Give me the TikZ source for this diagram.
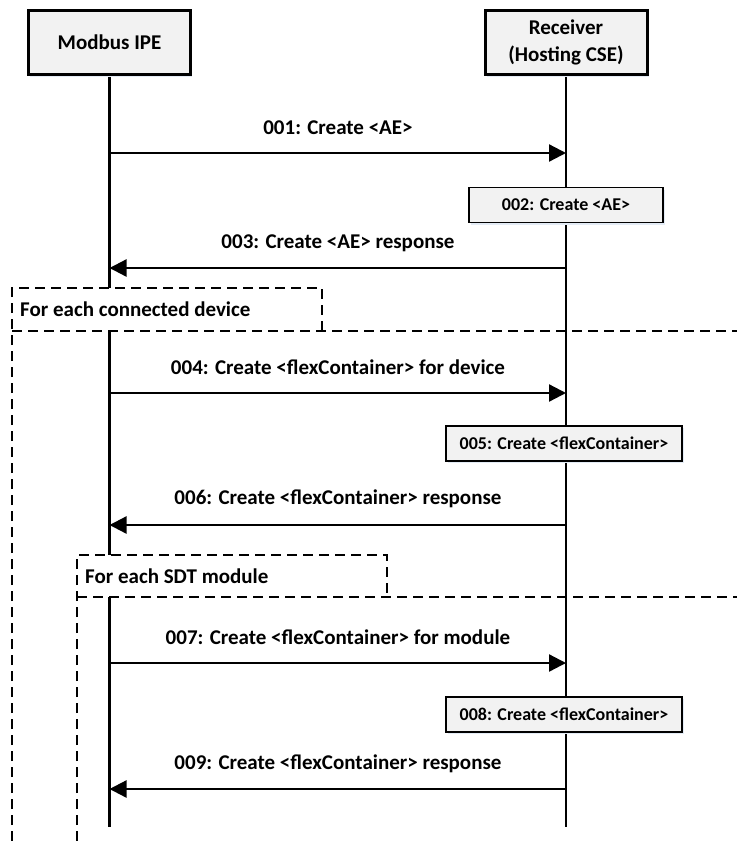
\documentclass[tikz,border=0pt]{standalone}
\usepackage{fontspec}
\setmainfont{Carlito}
\usetikzlibrary{arrows.meta,shadows}
\definecolor{boxgray}{HTML}{F2F2F2}
\definecolor{shadowblue}{HTML}{E3EBF5}
\begin{document}
\begin{tikzpicture}[x=1pt,y=-1pt,
  head/.style={draw=black, line width=3pt, fill=boxgray, minimum width=162pt, minimum height=64pt,
    inner sep=0pt, align=center, font=\fontsize{21}{27}\selectfont\bfseries,
    drop shadow={shadow xshift=1.5pt, shadow yshift=-2pt, fill=shadowblue, opacity=1}},
  life/.style={line width=2.7pt},
  msg/.style={line width=2.3pt, -{Triangle[length=17pt,width=17pt]}},
  lbl/.style={font=\fontsize{21}{25}\selectfont\bfseries, inner sep=0pt},
  act/.style={draw=black, line width=1.6pt, fill=boxgray, minimum height=35pt, inner sep=0pt,
    font=\fontsize{18}{22}\selectfont\bfseries,
    drop shadow={shadow xshift=1.5pt, shadow yshift=-2pt, fill=shadowblue, opacity=1}},
  framedash/.style={dash pattern=on 10pt off 6pt, line width=2pt},
  framelbl/.style={font=\fontsize{21}{25}\selectfont\bfseries, inner sep=0pt, anchor=west},
]
\useasboundingbox (0,0) rectangle (737,841);
\fill[white] (0,0) rectangle (737,841);

% lifelines
\coordinate (ipeEnd) at (109.5,827);
\coordinate (rcvEnd) at (566,827);
\draw[life] (109.5,76) -- (ipeEnd);
\draw[life] (566,76) -- (rcvEnd);

% heads
\node[head] (ipe) at (109.5,42.5) {Modbus IPE};
\node[head] (rcv) at (566,42.5) {Receiver\\(Hosting CSE)};

% frame 1
\fill[white] (12,288) rectangle (322,331);
\draw[framedash] (12,841) -- (12,288) -- (322,288) -- (322,331);
\draw[framedash] (12,331) -- (737,331);
\node[framelbl] (f1) at (20,309) {For each connected device};

% frame 2
\fill[white] (77,555) rectangle (387,597);
\draw[framedash] (77,841) -- (77,555) -- (387,555) -- (387,597);
\draw[framedash] (77,597) -- (737,597);
\node[framelbl] (f2) at (85,576) {For each SDT module};

% message end points
\coordinate (a1) at (109.5,153); \coordinate (b1) at (566,153);
\coordinate (a3) at (109.5,268); \coordinate (b3) at (566,268);
\coordinate (a4) at (109.5,393); \coordinate (b4) at (566,393);
\coordinate (a6) at (109.5,525); \coordinate (b6) at (566,525);
\coordinate (a7) at (109.5,663); \coordinate (b7) at (566,663);
\coordinate (a9) at (109.5,789); \coordinate (b9) at (566,789);

\draw[msg] (a1) -- (b1);
\draw[msg] (b3) -- (a3);
\draw[msg] (a4) -- (b4);
\draw[msg] (b6) -- (a6);
\draw[msg] (a7) -- (b7);
\draw[msg] (b9) -- (a9);

\node[lbl] (t1) at (338,128) {001: Create <AE>};
\node[lbl] (t3) at (338,243) {003: Create <AE> response};
\node[lbl] (t4) at (338,367) {004: Create <flexContainer> for device};
\node[lbl] (t6) at (338,499) {006: Create <flexContainer> response};
\node[lbl] (t7) at (338,637) {007: Create <flexContainer> for module};
\node[lbl] (t9) at (338,764) {009: Create <flexContainer> response};

% activity boxes
\node[act, minimum width=194pt] (s2) at (566,205) {002: Create <AE>};
\node[act, minimum width=236pt] (s5) at (564,443.5) {005: Create <flexContainer>};
\node[act, minimum width=236pt] (s8) at (564,714.5) {008: Create <flexContainer>};
\end{tikzpicture}
\end{document}
